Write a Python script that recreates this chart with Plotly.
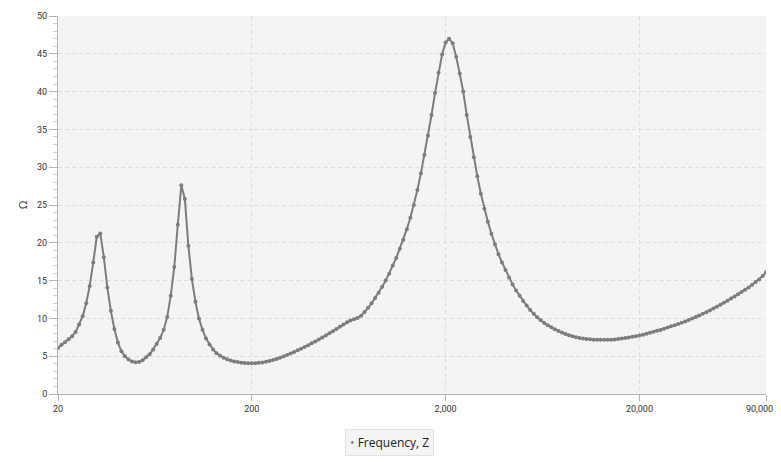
"""Impedance sweep: |Z| in ohms against frequency, on a log axis."""

import math

import plotly.graph_objects as go

# Sweep frequencies (Hz), 55 steps per decade, ending at 90 kHz
FREQ = [
    20.00, 20.86, 21.75, 22.68, 23.65, 24.66, 25.71, 26.81, 27.96, 29.15,
    30.40, 31.70, 33.05, 34.47, 35.94, 37.48, 39.08, 40.75, 42.49, 44.31,
    46.20, 48.18, 50.24, 52.39, 54.63, 56.96, 59.40, 61.94, 64.58, 67.34,
    70.22, 73.23, 76.36, 79.62, 83.03, 86.57, 90.28, 94.14, 98.16, 102.36,
    106.73, 111.30, 116.05, 121.02, 126.19, 131.58, 137.21, 143.08, 149.19, 155.57,
    162.22, 169.16, 176.39, 183.93, 191.79,
    200.0, 208.6, 217.5, 226.8, 236.5, 246.6, 257.1, 268.1, 279.6, 291.5,
    304.0, 317.0, 330.5, 344.7, 359.4, 374.8, 390.8, 407.5, 424.9, 443.1,
    462.0, 481.8, 502.4, 523.9, 546.3, 569.6, 594.0, 619.4, 645.8, 673.4,
    702.2, 732.3, 763.6, 796.2, 830.3, 865.7, 902.8, 941.4, 981.6, 1023.6,
    1067.3, 1113.0, 1160.5, 1210.2, 1261.9, 1315.8, 1372.1, 1430.8, 1491.9, 1555.7,
    1622.2, 1691.6, 1763.9, 1839.3, 1917.9,
    2000, 2086, 2175, 2268, 2365, 2466, 2571, 2681, 2796, 2915,
    3040, 3170, 3305, 3447, 3594, 3748, 3908, 4075, 4249, 4431,
    4620, 4818, 5024, 5239, 5463, 5696, 5940, 6194, 6458, 6734,
    7022, 7323, 7636, 7962, 8303, 8657, 9028, 9414, 9816, 10236,
    10673, 11130, 11605, 12102, 12619, 13158, 13721, 14308, 14919, 15557,
    16222, 16916, 17639, 18393, 19179,
    20000, 20855, 21747, 22677, 23646, 24657, 25711, 26811, 27957, 29152,
    30399, 31698, 33053, 34467, 35940, 37477, 39079, 40750, 42492, 44309,
    46203, 48178, 50238, 52386, 54625, 56961, 59396, 61935, 64584, 67344,
    70224, 73225, 76356, 79621, 83025, 86574, 90000,
]

# Impedance magnitude (ohm)
Z = [
    6.10, 6.50, 6.85, 7.25, 7.65, 8.20, 9.20, 10.30, 12.00, 14.30,
    17.40, 20.80, 21.24, 18.10, 14.10, 11.00, 8.60, 6.80, 5.65, 5.00,
    4.57, 4.30, 4.20, 4.22, 4.45, 4.85, 5.25, 5.90, 6.60, 7.40,
    8.50, 10.20, 13.00, 16.80, 22.40, 27.60, 25.80, 19.60, 15.20, 12.20,
    10.00, 8.50, 7.35, 6.54, 5.90, 5.40, 5.05, 4.80, 4.60, 4.42,
    4.30, 4.22, 4.15, 4.11, 4.08,
    4.07, 4.08, 4.12, 4.18, 4.26, 4.36, 4.50, 4.64, 4.80, 4.97,
    5.15, 5.35, 5.56, 5.78, 6.00, 6.22, 6.45, 6.70, 6.95, 7.20,
    7.47, 7.75, 8.03, 8.30, 8.60, 8.90, 9.20, 9.48, 9.72, 9.90,
    10.05, 10.35, 10.85, 11.40, 12.00, 12.70, 13.40, 14.20, 15.00, 15.90,
    17.00, 18.00, 19.20, 20.40, 21.80, 23.30, 25.00, 27.00, 29.20, 31.60,
    34.20, 36.90, 39.80, 42.50, 44.90,
    46.50, 47.00, 46.40, 44.60, 42.40, 40.00, 36.90, 34.00, 31.30, 28.80,
    26.50, 24.50, 22.80, 21.20, 19.80, 18.50, 17.40, 16.40, 15.40, 14.50,
    13.70, 13.00, 12.30, 11.70, 11.10, 10.60, 10.15, 9.75, 9.40, 9.10,
    8.82, 8.56, 8.33, 8.12, 7.94, 7.78, 7.64, 7.52, 7.42, 7.34,
    7.28, 7.23, 7.19, 7.17, 7.16, 7.16, 7.17, 7.19, 7.22, 7.27,
    7.33, 7.40, 7.48, 7.56, 7.65,
    7.74, 7.85, 7.97, 8.10, 8.22, 8.35, 8.48, 8.63, 8.79, 8.95,
    9.10, 9.25, 9.42, 9.60, 9.78, 9.98, 10.18, 10.38, 10.60, 10.83,
    11.06, 11.30, 11.55, 11.80, 12.07, 12.35, 12.63, 12.90, 13.20, 13.50,
    13.80, 14.10, 14.45, 14.80, 15.15, 15.60, 16.10,
]

X_TICKS = [20, 200, 2000, 20000, 90000]
# last label is drawn separately (see below), so its tick text stays empty
X_TICK_TEXT = ["20", "200", "2,000", "20,000", ""]
X_END_LABEL = "90,000"

SERIES_NAME = "Frequency, Z"
LINE_GREY = "#7d7d7d"
GRID = "#dedede"
AXIS = "#b4b4b4"
FONT = "Open Sans, Noto Sans, sans-serif"
TICK_FONT = dict(family="Roboto, Open Sans, sans-serif", size=9, color="#333333")

fig = go.Figure()

fig.add_trace(
    go.Scatter(
        x=FREQ,
        y=Z,
        mode="lines+markers",
        line=dict(color=LINE_GREY, width=2),
        marker=dict(color=LINE_GREY, size=4),
        name=SERIES_NAME,
    )
)

# boxed legend below the chart: dot + series name, centred on the page
fig.add_annotation(
    xref="paper",
    yref="paper",
    x=0.468,
    y=-0.127,
    xanchor="center",
    yanchor="middle",
    text=f"<span style='color:{LINE_GREY}'>•</span> {SERIES_NAME}",
    showarrow=False,
    font=dict(family=FONT, size=12, color="#222222"),
    bgcolor="#f4f4f4",
    bordercolor="#e2e2e2",
    borderwidth=1,
    borderpad=4,
)

# the right-edge tick label, nudged left so it is not clipped by the window
fig.add_annotation(
    xref="x",
    yref="paper",
    x=math.log10(X_TICKS[-1]),
    y=0,
    xanchor="center",
    yanchor="middle",
    xshift=-7,
    yshift=-14.5,
    text=X_END_LABEL,
    showarrow=False,
    font=TICK_FONT,
)

fig.update_layout(
    width=781,
    height=462,
    margin=dict(l=50, r=23, t=8, b=76),
    paper_bgcolor="white",
    plot_bgcolor="#f4f4f4",
    font=dict(family=FONT, size=10, color="#333333"),
    showlegend=False,
)

fig.update_xaxes(
    type="log",
    range=[math.log10(X_TICKS[0]), math.log10(X_TICKS[-1])],
    tickvals=X_TICKS,
    ticktext=X_TICK_TEXT,
    ticks="outside",
    ticklen=6,
    tickcolor=AXIS,
    showline=True,
    linecolor=AXIS,
    linewidth=1,
    showgrid=True,
    gridcolor=GRID,
    griddash="4px,3px",
    zeroline=False,
    automargin=False,
    tickfont=TICK_FONT,
)

fig.update_yaxes(
    range=[0, 50],
    dtick=5,
    ticks="outside",
    ticklen=8,
    tickcolor=AXIS,
    showline=True,
    linecolor=AXIS,
    linewidth=1,
    showgrid=True,
    gridcolor=GRID,
    griddash="4px,3px",
    zeroline=False,
    automargin=False,
    minor=dict(ticks="outside", ticklen=4, dtick=1, tickcolor="#cfcfcf", showgrid=False),
    title=dict(text="Ω", font=dict(size=11, color="#333333"), standoff=7),
    tickfont=TICK_FONT,
)

fig.write_html("out.html")
